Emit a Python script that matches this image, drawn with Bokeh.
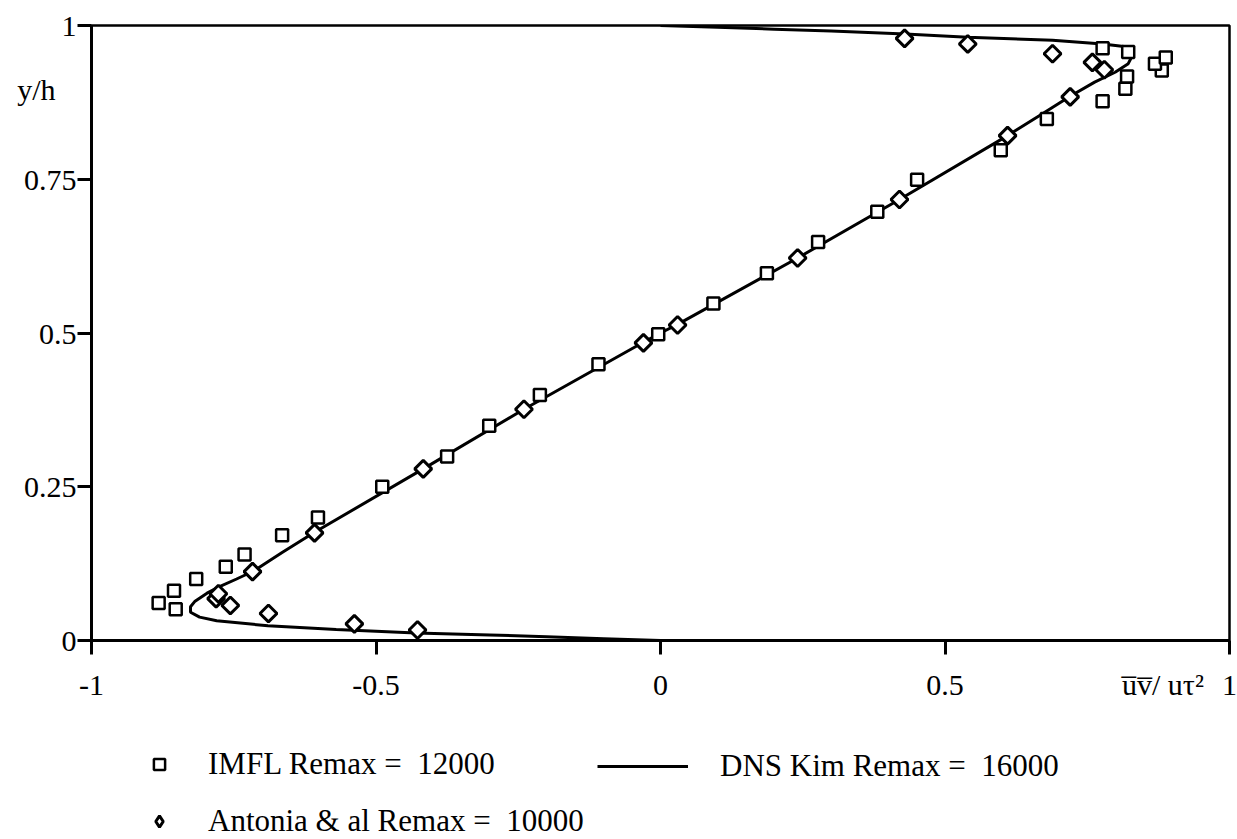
import math
from bokeh.plotting import figure
from bokeh.layouts import column
from bokeh.models import Range1d, FixedTicker, Legend, LegendItem
from bokeh.embed import file_html
from bokeh.resources import INLINE

# ---- data ----
imfl_x = [-0.852, -0.882, -0.855, -0.816, -0.764, -0.731, -0.665, -0.602, -0.489, -0.375,
          -0.301, -0.212, -0.109, -0.004, 0.093, 0.187, 0.277, 0.381, 0.451, 0.598,
          0.679, 0.777, 0.817, 0.820, 0.881, 0.869, 0.888, 0.822, 0.777]
imfl_y = [0.051, 0.061, 0.081, 0.100, 0.120, 0.140, 0.171, 0.200, 0.250, 0.299,
          0.349, 0.399, 0.449, 0.498, 0.548, 0.597, 0.648, 0.697, 0.749, 0.797,
          0.848, 0.877, 0.897, 0.917, 0.927, 0.938, 0.948, 0.957, 0.963]

antonia_x = [-0.427, -0.538, -0.689, -0.756, -0.781, -0.777, -0.717, -0.608, -0.417, -0.240,
             -0.030, 0.030, 0.241, 0.420, 0.610, 0.720, 0.780, 0.759, 0.689, 0.540, 0.429]
antonia_y = [0.017, 0.027, 0.044, 0.057, 0.068, 0.076, 0.112, 0.175, 0.279, 0.376,
             0.484, 0.513, 0.622, 0.717, 0.821, 0.884, 0.928, 0.940, 0.954, 0.970, 0.979]

dns_x = [0.0, -0.1, -0.2, -0.3, -0.43, -0.57, -0.69, -0.78, -0.81, -0.826, -0.826, -0.818,
         -0.797, -0.774, -0.745, -0.715, -0.665, -0.608, -0.417, -0.24, -0.03, 0.0, 0.03,
         0.241, 0.42, 0.61, 0.665, 0.72, 0.763, 0.799, 0.822, 0.831, 0.822, 0.777, 0.689,
         0.54, 0.43, 0.3, 0.2, 0.1, 0.0]
dns_y = [0.0, 0.003, 0.006, 0.009, 0.012, 0.018, 0.024, 0.032, 0.038, 0.046, 0.055, 0.064,
         0.077, 0.088, 0.100, 0.113, 0.143, 0.176, 0.279, 0.376, 0.485, 0.5, 0.514,
         0.622, 0.717, 0.821, 0.853, 0.885, 0.908, 0.924, 0.938, 0.954, 0.965, 0.970, 0.976,
         0.981, 0.986, 0.991, 0.994, 0.997, 1.0]

x_ticks = [-1, -0.5, 0, 0.5, 1]
x_tick_labels = ["-1", "-0.5", "0", "0.5", "1"]
y_ticks = [0, 0.25, 0.5, 0.75, 1]
y_tick_labels = ["0", "0.25", "0.5", "0.75", "1"]

x_title = "u\u0305v\u0305/ u\u03c4\u00b2"   # overline uv / u_tau^2
x_title_pos = 0.883
y_title = "y/h\u2002\u2009"
y_title_pos = 0.896

legend_imfl = "IMFL Remax =\u00a0 12000"
legend_dns = "DNS Kim Remax =\u00a0 16000"
legend_antonia = "Antonia & al Remax =\u00a0 10000"

FONT = "Liberation Serif"
FS = "30px"
LFS = "31px"

SQ = dict(marker="square", size=12, fill_color="white", line_color="black", line_width=2.5)
DI = dict(marker="square", angle=math.pi / 4, size=12, fill_color="white",
          line_color="black", line_width=3)
DI_LEG = dict(marker="diamond", size=12, fill_color="white", line_color="black", line_width=3)
LN = dict(line_color="black", line_width=3)

p = figure(width=1237, height=720, output_backend="svg", toolbar_location=None,
           x_range=Range1d(-1, 1), y_range=Range1d(0, 1),
           min_border_left=91, min_border_right=8, min_border_top=25, min_border_bottom=80)
p.grid.visible = False
p.outline_line_color = "black"
p.outline_line_width = 2.5
p.background_fill_color = "white"
p.border_fill_color = "white"

for ax in (p.xaxis[0], p.yaxis[0]):
    ax.axis_line_width = 3
    ax.axis_line_color = "black"
    ax.major_tick_line_color = None
    ax.minor_tick_line_color = "black"
    ax.minor_tick_line_width = 3
    ax.minor_tick_in = 0
    ax.minor_tick_out = 14
    ax.major_tick_in = 0
    ax.major_tick_out = 14
    ax.major_label_text_font = FONT
    ax.major_label_text_font_size = FS
    ax.major_label_text_color = "black"

xl = dict(zip(x_ticks, x_tick_labels))
xl[x_title_pos] = x_title
p.xaxis[0].ticker = FixedTicker(ticks=x_ticks + [x_title_pos], minor_ticks=x_ticks)
p.xaxis[0].major_label_overrides = xl
p.xaxis[0].major_label_standoff = 13

yl = dict(zip(y_ticks, y_tick_labels))
yl[y_title_pos] = y_title
p.yaxis[0].ticker = FixedTicker(ticks=y_ticks + [y_title_pos], minor_ticks=y_ticks)
p.yaxis[0].major_label_overrides = yl
p.yaxis[0].major_label_standoff = 1

p.line(dns_x, dns_y, **LN)
p.scatter(imfl_x, imfl_y, **SQ)
p.scatter(antonia_x, antonia_y, **DI)

# ---- legend strip below the chart (its ranges exclude the data, so only the legend shows) ----
lf = figure(width=1237, height=119, output_backend="svg", toolbar_location=None,
            x_range=Range1d(10, 11), y_range=Range1d(10, 11),
            x_axis_location=None, y_axis_location=None,
            min_border_left=0, min_border_right=0, min_border_top=0, min_border_bottom=0)
lf.grid.visible = False
lf.outline_line_color = None
lf.background_fill_color = "white"
lf.border_fill_color = "white"

g_dns = lf.line(dns_x, dns_y, **LN)
g_imfl = lf.scatter(imfl_x, imfl_y, **SQ)
g_ant = lf.scatter(antonia_x, antonia_y, **DI_LEG)

common = dict(padding=0, margin=0, label_text_font=FONT, label_text_font_size=LFS,
              label_text_color="black",
              border_line_alpha=0, background_fill_alpha=0, glyph_height=34, label_height=34)
leg1 = Legend(items=[LegendItem(label=legend_imfl, renderers=[g_imfl]),
                     LegendItem(label=legend_antonia, renderers=[g_ant])],
              location=(54, 0), orientation="vertical",
              glyph_width=28, label_standoff=35, spacing=21, **common)
leg2 = Legend(items=[LegendItem(label=legend_dns, renderers=[g_dns])],
              location=(506, 55), orientation="vertical",
              glyph_width=91, label_standoff=32, spacing=0, **common)
lf.add_layout(leg1)
lf.add_layout(leg2)

layout = column(p, lf, spacing=0)
open("out.html", "w").write(file_html(layout, INLINE))
